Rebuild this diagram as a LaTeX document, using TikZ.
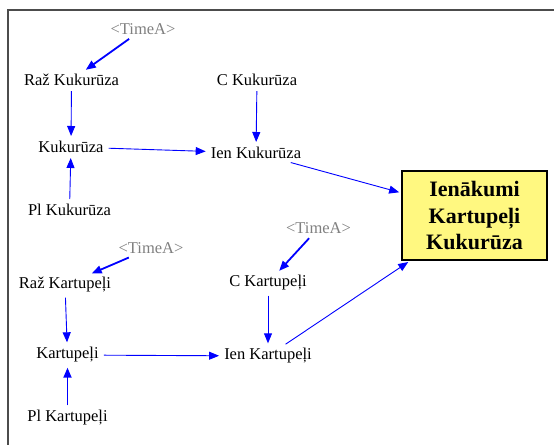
\documentclass[tikz,border=0pt]{standalone}
\usepackage{fontspec}
\setmainfont{Liberation Serif}
\usetikzlibrary{arrows.meta,calc}
\begin{document}
\begin{tikzpicture}[x=1pt,y=-1pt,
		var/.style={font=\fontsize{16.5}{18}\selectfont,inner sep=3pt},
		timevar/.style={var,text=gray},
		link/.style={draw=blue,line width=0.9pt,-{Triangle[length=10pt,width=8pt]},shorten >=2pt,shorten <=2pt},
		timelink/.style={link,line width=1.8pt},
		total/.style={draw=black,line width=1.8pt,fill=yellow!50,minimum width=145pt,minimum height=89pt,align=center,font=\bfseries\fontsize{22}{26.5}\selectfont}]
		\useasboundingbox (0,0) rectangle (554,445);
		\draw[gray!60!black,line width=1.5pt] (554,10) -- (8,10) -- (8,445);
		\node[timevar] (timek) at (143,29) {<TimeA>};
		\node[var] (razk) at (71.5,80) {Raž Kukurūza};
		\node[var] (ck) at (257,80) {C Kukurūza};
		\node[var] (kuk) at (71,147) {Kukurūza};
		\node[var] (ienk) at (256,153) {Ien Kukurūza};
		\node[var] (plk) at (69.5,210) {Pl Kukurūza};
		\node[total] (ienakumi) at (474.5,215.5) {Ienākumi\\Kartupeļi\\Kukurūza};
		\node[timevar] (timekart) at (151,248) {<TimeA>};
		\node[timevar] (timec) at (318.5,228) {<TimeA>};
		\node[var] (razkart) at (65,285) {Raž Kartupeļi};
		\node[var] (ckart) at (268,283) {C Kartupeļi};
		\node[var] (kart) at (67.5,355) {Kartupeļi};
		\node[var] (ienkart) at (268,356) {Ien Kartupeļi};
		\node[var] (plkart) at (67.5,418) {Pl Kartupeļi};
		\draw[timelink] (timek) -- (razk);
		\draw[link] (razk) -- (kuk);
		\draw[link] (plk) -- (kuk);
		\draw[link] (kuk) -- (ienk);
		\draw[link] (ck) -- (ienk);
		\draw[link] (ienk) -- ($(ienakumi.north west)!0.25!(ienakumi.south west)$);
		\draw[timelink] (timekart) -- (razkart);
		\draw[link] (razkart) -- (kart);
		\draw[timelink] (plkart) -- (kart);
		\draw[link] (kart) -- (ienkart);
		\draw[timelink] (timec) -- (ckart);
		\draw[link] (ckart) -- (ienkart);
		\draw[link] (ienkart) -- ($(ienakumi.south west)!0.06!(ienakumi.south east)$);
	\end{tikzpicture}
\end{document}
